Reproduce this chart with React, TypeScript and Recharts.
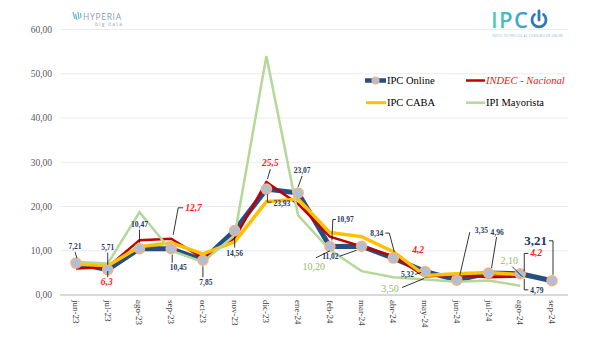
import React from 'react';
import { LineChart, Line, XAxis, YAxis, CartesianGrid, LabelList } from 'recharts';

const months = ['jun-23', 'jul-23', 'ago-23', 'sep-23', 'oct-23', 'nov-23', 'dic-23', 'ene-24', 'feb-24', 'mar-24', 'abr-24', 'may-24', 'jun-24', 'jul-24', 'ago-24', 'sep-24'];
const ipcOnline = [7.21, 5.71, 10.47, 10.45, 7.85, 14.56, 23.93, 23.07, 10.97, 11.02, 8.34, 5.32, 3.35, 4.96, 4.79, 3.21];
const indecNacional = [6.0, 6.3, 12.4, 12.7, 8.3, 12.8, 25.5, 20.6, 13.2, 11.0, 8.8, 4.2, 4.6, 4.0, 4.2, null];
const ipcCaba = [7.0, 6.6, 10.9, 11.8, 9.3, 12.0, 21.1, 21.7, 14.1, 13.2, 9.8, 4.4, 4.8, 5.1, 4.6, null];
const ipiMayorista = [7.5, 7.1, 18.7, 10.0, 7.5, 13.5, 54.0, 18.0, 10.2, 5.4, 4.0, 3.5, 3.0, 3.3, 2.1, null];
const yTicks = [0, 10, 20, 30, 40, 50, 60];
const seriesNames = ['IPC Online', 'INDEC - Nacional', 'IPC CABA', 'IPI Mayorista'];

const data = months.map((m, i) => ({
  month: m,
  online: ipcOnline[i],
  indec: indecNacional[i],
  caba: ipcCaba[i],
  ipi: ipiMayorista[i],
}));

const SERIF = '"Liberation Serif", "Times New Roman", serif';
const C_BLUE = '#264e80';
const C_RED = '#c00000';
const C_YEL = '#ffc000';
const C_GRN = '#b5d89a';

type Pos = { dx: number; dy: number; anchor: 'start' | 'middle' | 'end'; leader?: [number, number][] };

const bluePos: Record<number, Pos> = {
  0: { dx: -1, dy: -14, anchor: 'middle', leader: [[-1, -11], [1, -5]] },
  1: { dx: 0, dy: -20, anchor: 'middle', leader: [[0, -17], [0, -5]] },
  2: { dx: 0, dy: -22, anchor: 'middle', leader: [[0, -19], [0, -6]] },
  3: { dx: 7, dy: 21, anchor: 'middle', leader: [[1, 6], [1, 14]] },
  4: { dx: 3, dy: 25, anchor: 'middle', leader: [[0, 6], [0, 17]] },
  5: { dx: 0, dy: 25, anchor: 'middle', leader: [[0, 6], [0, 17]] },
  6: { dx: 7, dy: 17, anchor: 'start', leader: [[1, 5], [1, 13], [5, 13]] },
  7: { dx: 4, dy: -20, anchor: 'middle', leader: [[4, -17], [0, -6]] },
  8: { dx: 7, dy: -24, anchor: 'start', leader: [[6, -27], [3, -27], [2, -6]] },
  9: { dx: -23, dy: 13, anchor: 'end', leader: [[-22, 10], [-5, 4]] },
  10: { dx: -10, dy: -22, anchor: 'end', leader: [[-8, -25], [-4, -25], [1, -6]] },
  11: { dx: -11, dy: 6, anchor: 'end', leader: [[-10, 3], [-4, 1]] },
  12: { dx: 18, dy: -47, anchor: 'start', leader: [[13, -48], [3, -5]] },
  13: { dx: 2, dy: -38, anchor: 'start', leader: [[8, -36], [3, -5]] },
  14: { dx: 10, dy: 19, anchor: 'start', leader: [[4, 5], [4, 16], [8, 16]] },
  15: { dx: -5, dy: -36, anchor: 'end', leader: [[-3, -40], [1, -40], [1, -6]] },
};

const redPos: Record<number, Pos> = {
  1: { dx: -1, dy: 18, anchor: 'middle', leader: [[0, 4], [0, 10]] },
  3: { dx: 14, dy: -28, anchor: 'start', leader: [[12, -31], [7, -31], [2, -4]] },
  6: { dx: 4, dy: -16, anchor: 'middle', leader: [[4, -13], [1, -3]] },
  11: { dx: -7, dy: -23, anchor: 'middle' },
  14: { dx: 10, dy: -20, anchor: 'start', leader: [[4, -5], [4, -23], [8, -23]] },
};

const greenPos: Record<number, Pos> = {
  8: { dx: -16, dy: 20, anchor: 'middle', leader: [[-14, 8], [0, 1]] },
  11: { dx: -35, dy: 12, anchor: 'middle', leader: [[-23, 8], [-1, -1]] },
  14: { dx: -11, dy: -22, anchor: 'middle', leader: [[-8, -19], [2, -9]] },
};

const fmt = (v: number, d: number) => v.toFixed(d).replace('.', ',');

const makeLabel = (pos: Record<number, Pos>, digits: number, style: any, bigIndex?: number, bigStyle?: any) => (props: any) => {
  const { x, y, value, index } = props;
  const p = pos[index];
  if (!p || value == null || x == null || y == null) return null;
  const st = index === bigIndex ? bigStyle : style;
  return (
    <g>
      {p.leader && (
        <polyline
          points={p.leader.map(([a, b]) => `${x + a},${y + b}`).join(' ')}
          fill="none"
          stroke="#000"
          strokeWidth={0.8}
        />
      )}
      <text x={x + p.dx} y={y + p.dy} textAnchor={p.anchor} fontFamily={SERIF} {...st}>
        {fmt(value, digits)}
      </text>
    </g>
  );
};

const blueLabel = makeLabel(bluePos, 2, { fontSize: 7.5, fontWeight: 700, fill: '#1f3864' }, 15, { fontSize: 13, fontWeight: 700, fill: '#1f3864' });
const redLabel = makeLabel(redPos, 1, { fontSize: 9.5, fontWeight: 700, fontStyle: 'italic', fill: '#ff1a1a' });
const greenLabel = makeLabel(greenPos, 2, { fontSize: 10, fill: '#9bb567' });

const XTick = (props: any) => {
  const { x, y, payload } = props;
  return (
    <text
      transform={`translate(${x},${y}) rotate(90)`}
      textAnchor="start"
      dominantBaseline="central"
      fontFamily={SERIF}
      fontSize={9}
      fill="#404040"
    >
      {payload.value}
    </text>
  );
};

const BlueDot = (props: any) => {
  const { cx, cy, index } = props;
  if (cx == null || cy == null) return <g key={index} />;
  return <circle key={index} cx={cx} cy={cy} r={5} fill="#aebfd8" stroke="#f4b183" strokeWidth={1.5} />;
};

const Overlay = () => (
  <svg width={599} height={351} style={{ position: 'absolute', left: 0, top: 0, pointerEvents: 'none' }}>
    <defs>
      <linearGradient id="ipcGrad" x1="0" y1="0" x2="1" y2="0">
        <stop offset="0%" stopColor="#4fd3b3" />
        <stop offset="100%" stopColor="#3a96cf" />
      </linearGradient>
    </defs>
    {/* HYPERIA logo */}
    <g stroke="#5bbfc9" strokeWidth={1.2}>
      <line x1={73} y1={12} x2={75} y2={19} />
      <line x1={75.5} y1={14} x2={77} y2={20} />
      <line x1={78} y1={12} x2={79} y2={19} />
      <line x1={80.5} y1={13} x2={81} y2={18} />
    </g>
    <text x={83} y={19.5} fontFamily="Open Sans, sans-serif" fontSize={8.5} fill="#8d99a6" textLength={38}>HYPERIA</text>
    <text x={95} y={26} fontFamily="Open Sans, sans-serif" fontSize={5} fill="#a0a9b2" textLength={27}>big data</text>
    {/* IPC logo */}
    <text x={491} y={28} fontFamily="Open Sans, sans-serif" fontWeight={600} fontSize={22} fill="url(#ipcGrad)" textLength={37}>IPC</text>
    <path d="M 534.5 14.5 A 7 7 0 1 0 543.5 14.5" fill="none" stroke="#2f78bd" strokeWidth={2.8} strokeLinecap="round" />
    <line x1={539} y1={11} x2={539} y2={20} stroke="#2f78bd" strokeWidth={2.8} strokeLinecap="round" />
    <text x={492} y={37} fontFamily="Open Sans, sans-serif" fontSize={2.6} fill="#6fb7d6" textLength={71}>ÍNDICE DE PRECIOS AL CONSUMIDOR ONLINE</text>
    {/* Legend */}
    <line x1={365} y1={80.5} x2={386} y2={80.5} stroke={C_BLUE} strokeWidth={4.5} />
    <circle cx={375.5} cy={80.5} r={3.5} fill="#aebfd8" stroke="#f4b183" strokeWidth={1.2} />
    <text x={387} y={84} fontFamily={SERIF} fontSize={10.5} fill="#000">{seriesNames[0]}</text>
    <line x1={466} y1={80.5} x2={485} y2={80.5} stroke={C_RED} strokeWidth={2.5} />
    <text x={486} y={84} fontFamily={SERIF} fontSize={10.5} fontStyle="italic" fill="#e8151b">{seriesNames[1]}</text>
    <line x1={366} y1={102.7} x2={386} y2={102.7} stroke={C_YEL} strokeWidth={3} />
    <text x={387} y={106.2} fontFamily={SERIF} fontSize={10.5} fill="#000">{seriesNames[2]}</text>
    <line x1={466} y1={102.7} x2={485} y2={102.7} stroke={C_GRN} strokeWidth={2.5} />
    <text x={486} y={106.2} fontFamily={SERIF} fontSize={10.5} fill="#000">{seriesNames[3]}</text>
  </svg>
);

export default function App() {
  return (
    <div style={{ position: 'absolute', left: 0, top: 0, width: 599, height: 351, background: '#fff' }}>
      <LineChart width={599} height={351} data={data} margin={{ top: 29.5, right: 31, bottom: 0, left: 0 }}>
        <CartesianGrid vertical={false} stroke="#ebebeb" strokeWidth={1} />
        <XAxis
          dataKey="month"
          height={56}
          padding={{ left: 16, right: 16 }}
          axisLine={{ stroke: '#d9d9d9', strokeWidth: 2 }}
          tickLine={false}
          tickSize={0}
          tickMargin={5}
          interval={0}
          tick={<XTick />}
        />
        <YAxis
          width={60}
          domain={[0, 60]}
          ticks={yTicks}
          axisLine={false}
          tickLine={false}
          tickFormatter={(v: number) => fmt(v, 2)}
          tick={{ fontFamily: SERIF, fontSize: 9.5, fill: '#595959' }}
        />
        <Line
          dataKey="online"
          name={seriesNames[0]}
          stroke={C_BLUE}
          strokeWidth={5}
          strokeLinejoin="round"
          dot={<BlueDot />}
          activeDot={false}
          isAnimationActive={false}
        >
          <LabelList dataKey="online" content={blueLabel} />
        </Line>
        <Line
          dataKey="indec"
          name={seriesNames[1]}
          stroke={C_RED}
          strokeWidth={2.5}
          dot={false}
          activeDot={false}
          isAnimationActive={false}
        >
          <LabelList dataKey="indec" content={redLabel} />
        </Line>
        <Line
          dataKey="caba"
          name={seriesNames[2]}
          stroke={C_YEL}
          strokeWidth={3.5}
          dot={false}
          activeDot={false}
          isAnimationActive={false}
        />
        <Line
          dataKey="ipi"
          name={seriesNames[3]}
          stroke={C_GRN}
          strokeWidth={2.5}
          dot={false}
          activeDot={false}
          isAnimationActive={false}
        >
          <LabelList dataKey="ipi" content={greenLabel} />
        </Line>
      </LineChart>
      <Overlay />
    </div>
  );
}
